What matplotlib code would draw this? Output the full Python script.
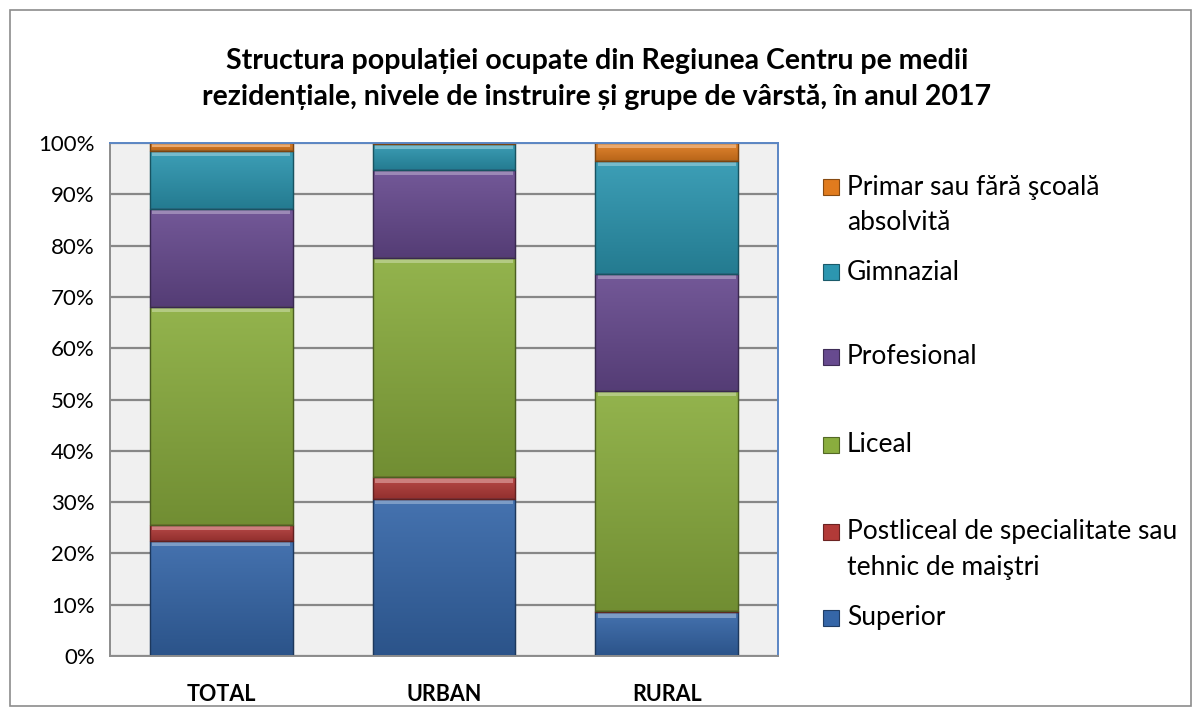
import matplotlib
matplotlib.use("Agg")
import matplotlib.pyplot as plt
import numpy as np
from matplotlib.patches import Rectangle
from matplotlib.colors import to_rgb

plt.rcParams['font.family'] = ['Lato', 'DejaVu Sans']

categories = ["TOTAL", "URBAN", "RURAL"]
series_names = ["Superior",
                "Postliceal de specialitate sau\ntehnic de maiştri",
                "Liceal", "Profesional", "Gimnazial",
                "Primar sau fără şcoală\nabsolvită"]
superior = [22.5, 30.6, 8.5]
postliceal = [3.0, 4.2, 0.3]
liceal = [42.5, 42.8, 42.9]
profesional = [19.2, 17.1, 22.8]
gimnazial = [11.2, 5.1, 22.0]
primar = [1.6, 0.2, 3.5]
series_values = [superior, postliceal, liceal, profesional, gimnazial, primar]
colors = ["#3566a8", "#b23a38", "#8aad3e", "#674a8f", "#2c96b0", "#e07b1e"]
yticks = [0, 10, 20, 30, 40, 50, 60, 70, 80, 90, 100]
title = ("Structura populației ocupate din Regiunea Centru pe medii\n"
         "rezidențiale, nivele de instruire și grupe de vârstă, în anul 2017")

W, H = 1201, 716
fig = plt.figure(figsize=(W / 100, H / 100), dpi=100)
fig.patch.set_facecolor("white")

# outer border
fig.add_artist(Rectangle((10 / W, 1 - 706 / H), 1181 / W, 696 / H,
                         transform=fig.transFigure, fill=False,
                         edgecolor="#8c8c8c", lw=1.2))

ax = fig.add_axes([110 / W, 1 - 656 / H, 668 / W, 513 / H])
ax.set_facecolor("#f0f0f0")
ax.set_xlim(-0.5, 2.5)
ax.set_ylim(0, 100)
ax.set_yticks(yticks)
ax.set_yticklabels([f"{t}%" for t in yticks], fontsize=16)
ax.yaxis.grid(True, color="#878787", lw=1.6)
ax.set_axisbelow(True)
ax.tick_params(axis="y", length=0, pad=11)
ax.tick_params(axis="x", length=0, pad=20)
x = np.arange(len(categories))
ax.set_xticks(x)
ax.set_xticklabels(categories, fontsize=15.5, fontweight="bold")
for s in ["top", "right"]:
    ax.spines[s].set_color("#5b86c4")
    ax.spines[s].set_linewidth(1.4)
for s in ["left", "bottom"]:
    ax.spines[s].set_color("#8c8c8c")
    ax.spines[s].set_linewidth(1.4)


def shade(c, f):
    r = np.array(to_rgb(c))
    if f >= 0:
        return tuple(r + (1 - r) * f)
    return tuple(r * (1 + f))


bottom = np.zeros(len(categories))
width = 0.64
for vals, col, name in zip(series_values, colors, series_names):
    vals = np.array(vals)
    bars = ax.bar(x, vals, width, bottom=bottom, color=col,
                  edgecolor=shade(col, -0.45), lw=0.8, label=name, zorder=2)
    for b in bars:
        x0, y0 = b.get_x(), b.get_y()
        w, h = b.get_width(), b.get_height()
        if h <= 0:
            continue
        # vertical gradient
        grad = np.linspace(0, 1, 64).reshape(-1, 1)
        top_c = np.array(shade(col, 0.08))
        bot_c = np.array(shade(col, -0.18))
        img = bot_c + (top_c - bot_c) * grad
        img = img.reshape(64, 1, 3)
        ax.imshow(img, extent=(x0, x0 + w, y0, y0 + h), origin="lower",
                  aspect="auto", zorder=2.1, interpolation="bilinear")
        # bevel highlight at top
        hb = min(1.0, h * 0.45)
        ax.add_patch(Rectangle((x0 + 0.01, y0 + h - hb), w - 0.02, hb,
                               color=shade(col, 0.35), lw=0, zorder=2.2))
        ax.add_patch(Rectangle((x0, y0), w, h, fill=False,
                               edgecolor=shade(col, -0.45), lw=1.0, zorder=2.3))
    bottom = bottom + vals
ax.set_xlim(-0.5, 2.5)
ax.set_ylim(0, 100)

fig.text(597 / W, 1 - 79 / H, title, ha="center", va="center",
         fontsize=20.5, fontweight="bold", linespacing=1.45)

# legend (top entry first)
leg_y = [[187, 222], [272], [357], [445], [532, 568], [618]]
for i, (name, col) in enumerate(zip(series_names[::-1], colors[::-1])):
    lines = name.split("\n")
    ys = leg_y[i]
    y0 = ys[0]
    fig.add_artist(Rectangle((823 / W, 1 - (y0 + 8) / H), 16 / W, 16 / H,
                             transform=fig.transFigure, facecolor=col,
                             edgecolor=shade(col, -0.4), lw=0.8))
    for ln, yy in zip(lines, ys):
        fig.text(847 / W, 1 - yy / H, ln, ha="left", va="center",
                 fontsize=19)

fig.savefig("out.png", dpi=100)
